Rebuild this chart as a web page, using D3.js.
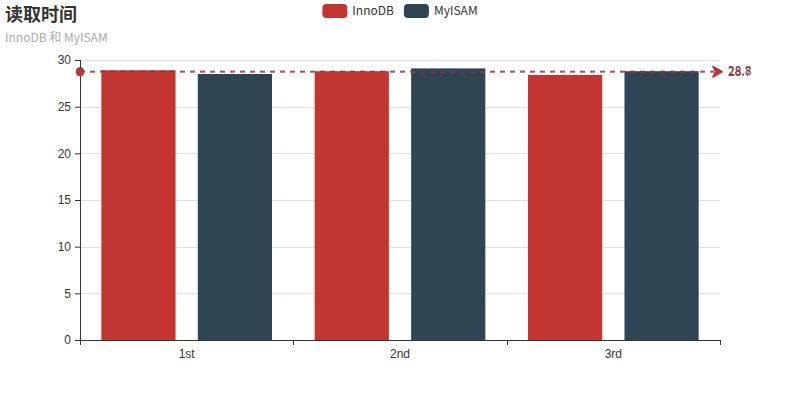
<!DOCTYPE html>
<html><head><meta charset="utf-8">
<script src="https://cdn.jsdelivr.net/npm/d3@7/dist/d3.min.js"></script>
<style>body{margin:0;background:#fff}svg{display:block;font-family:"Noto Sans CJK SC","Microsoft YaHei",sans-serif}</style>
</head><body><svg id="c" width="800" height="400"></svg>
<script>
const categories = ["1st", "2nd", "3rd"];
const seriesNames = ["InnoDB", "MyISAM"];
const innodbValues = [28.9, 28.8, 28.4];
const myisamValues = [28.5, 29.1, 28.8];
const yTicks = [0, 5, 10, 15, 20, 25, 30];
const titleText = "读取时间";
const subtitleText = "InnoDB 和 MyISAM";
const colors = ["#c23531", "#2f4554"];

(function () {
const series = [innodbValues, myisamValues];
const svg = d3.select("#c");
const gLeft = 80, gRight = 720, gTop = 60, gBottom = 340;

const x = d3.scaleBand().domain(categories).range([gLeft, gRight]).paddingInner(0).paddingOuter(0);
const y = d3.scaleLinear().domain([0, 30]).range([gBottom, gTop]);

// grid
svg.append("g").selectAll("line").data(yTicks.filter(t => t > 0)).join("line")
  .attr("x1", gLeft).attr("x2", gRight)
  .attr("y1", d => Math.round(y(d)) + 0.5).attr("y2", d => Math.round(y(d)) + 0.5)
  .attr("stroke", "#e0e0e0").attr("stroke-width", 1);

// bars
const band = x.bandwidth();
const inner = band * 0.8;
const bw = inner / (2 + 0.3);
const gap = bw * 0.3;
series.forEach((vals, si) => {
  svg.append("g").selectAll("rect").data(vals).join("rect")
    .attr("x", (d, i) => x(categories[i]) + band * 0.1 + si * (bw + gap))
    .attr("width", bw)
    .attr("y", d => y(d))
    .attr("height", d => y(0) - y(d))
    .attr("fill", colors[si]);
});

// y axis
const yAxis = svg.append("g").attr("transform", `translate(${gLeft},0)`)
  .call(d3.axisLeft(y).tickValues(yTicks).tickSize(5).tickPadding(4));
yAxis.select(".domain").attr("stroke", "#333").attr("d", `M0.5,${gBottom}V${gTop}`);
yAxis.selectAll(".tick line").attr("stroke", "#333");
yAxis.selectAll("text").attr("fill", "#333").style("font-size", "12px").style("font-family", "inherit");

// x axis
const xAxis = svg.append("g").attr("transform", `translate(0,${gBottom})`)
  .call(d3.axisBottom(x).tickSize(0).tickPadding(9));
xAxis.select(".domain").attr("stroke", "#333");
xAxis.selectAll("text").attr("fill", "#333").style("font-size", "12px").style("font-family", "inherit");
const bounds = categories.map(c => x(c)).concat([gRight]);
svg.append("g").selectAll("line").data(bounds).join("line")
  .attr("x1", d => Math.round(d) + 0.5).attr("x2", d => Math.round(d) + 0.5)
  .attr("y1", gBottom).attr("y2", gBottom + 5).attr("stroke", "#333");

// mark lines (average)
[1, 0].forEach(si => {
  const avg = d3.mean(series[si]);
  const yy = y(avg);
  const g = svg.append("g");
  g.append("line").attr("x1", gLeft).attr("x2", gRight - 6).attr("y1", yy).attr("y2", yy)
    .attr("stroke", colors[si]).attr("stroke-dasharray", "5,5").attr("stroke-width", 1);
  g.append("circle").attr("cx", gLeft).attr("cy", yy).attr("r", 4).attr("fill", colors[si]);
  g.append("path").attr("d", `M${gRight - 8},${yy - 6}L${gRight + 3},${yy}L${gRight - 8},${yy + 6}L${gRight - 5},${yy}Z`)
    .attr("fill", colors[si]);
  g.append("text").attr("x", gRight + 8).attr("y", yy).attr("dy", "0.35em")
    .attr("fill", colors[si]).style("font-size", "12px").text(avg.toFixed(1));
});

// title
svg.append("text").attr("x", 5).attr("y", 21).attr("fill", "#333")
  .style("font-size", "18px").style("font-weight", "bold").text(titleText);
svg.append("text").attr("x", 5).attr("y", 42).attr("fill", "#aaa")
  .style("font-size", "12px").text(subtitleText);

// legend
const lg = svg.append("g");
let cx = 0;
seriesNames.forEach((n, i) => {
  const it = lg.append("g");
  it.append("rect").attr("x", 0).attr("y", 4).attr("width", 25).attr("height", 14).attr("rx", 4).attr("fill", colors[i]);
  const t = it.append("text").attr("x", 30).attr("y", 11).attr("dy", "0.35em").attr("fill", "#333")
    .style("font-size", "12px").text(n);
  const w = 30 + t.node().getComputedTextLength();
  it.attr("transform", `translate(${cx},0)`);
  cx += w + 10;
});
const total = cx - 10;
lg.attr("transform", `translate(${400 - total / 2},0)`);
})();
</script></body></html>
